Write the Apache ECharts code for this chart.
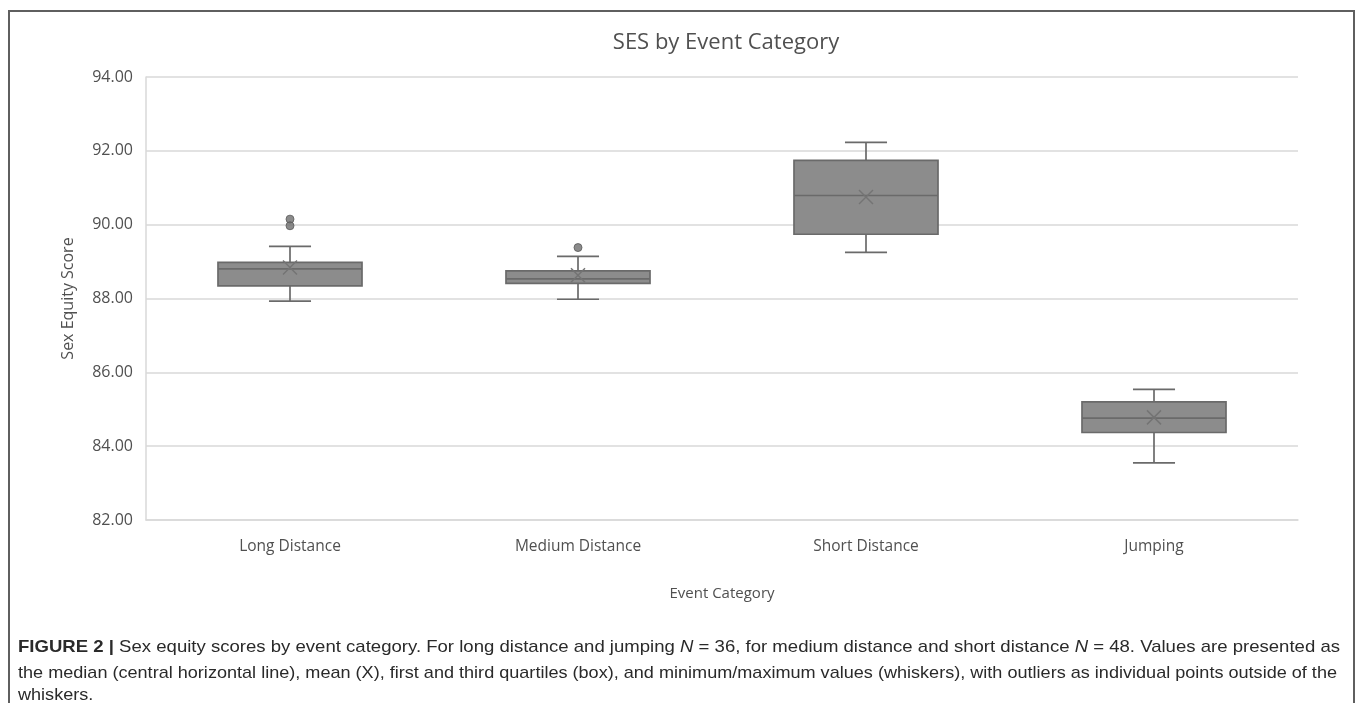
<!DOCTYPE html>
<html>
<head>
<meta charset="utf-8">
<script src="https://cdn.jsdelivr.net/npm/echarts@6/dist/echarts.min.js"></script>
<style>
  html, body { margin: 0; padding: 0; background: #ffffff; width: 1360px; height: 703px; overflow: hidden; }
  #frame { position: absolute; left: 8px; top: 10px; width: 1347px; height: 720px; border: 2px solid #5f5f5f; border-bottom: none; box-sizing: border-box; }
  #chart { position: absolute; left: 0; top: 0; width: 1360px; height: 703px; }
  .cap { position: absolute; left: 18px; height: 22px; line-height: 22px; font-family: "Liberation Sans", Arial, sans-serif; font-size: 17px; color: #2a2a2a; white-space: nowrap; transform-origin: 0 50%; }
  .cap b { font-weight: bold; }
</style>
</head>
<body>
<div id="frame"></div>
<div id="chart"></div>
<div class="cap" id="cap1" data-w="1322" style="top:636px;"><b>FIGURE 2 |</b> Sex equity scores by event category. For long distance and jumping <i>N</i> = 36, for medium distance and short distance <i>N</i> = 48. Values are presented as</div>
<div class="cap" id="cap2" data-w="1319" style="top:662px;">the median (central horizontal line), mean (X), first and third quartiles (box), and minimum/maximum values (whiskers), with outliers as individual points outside of the</div>
<div class="cap" id="cap3" style="top:684px;">whiskers.</div>
<script>
// ---- data ----
var categories = ['Long Distance', 'Medium Distance', 'Short Distance', 'Jumping'];
var minVals    = [87.93, 87.98, 89.25, 83.55];
var q1Vals     = [88.34, 88.41, 89.74, 84.37];
var medianVals = [88.80, 88.53, 90.79, 84.76];
var q3Vals     = [88.98, 88.75, 91.74, 85.20];
var maxVals    = [89.41, 89.14, 92.23, 85.54];
var meanVals   = [88.84, 88.63, 90.75, 84.78];
var outlierCats = [0, 0, 1];
var outlierVals = [90.15, 89.97, 89.38];
var yTicks = [82, 84, 86, 88, 90, 92, 94];

// ---- build ----
var boxData = categories.map(function (c, i) {
  return [i, minVals[i], q1Vals[i], medianVals[i], q3Vals[i], maxVals[i], meanVals[i]];
});
var outlierData = outlierCats.map(function (c, i) { return [c, outlierVals[i]]; });

var LINE = '#6a6a6a';
var FILL = '#8c8c8c';

function renderBox(params, api) {
  var x = api.value(0);
  var pMin = api.coord([x, api.value(1)]);
  var pQ1 = api.coord([x, api.value(2)]);
  var pMed = api.coord([x, api.value(3)]);
  var pQ3 = api.coord([x, api.value(4)]);
  var pMax = api.coord([x, api.value(5)]);
  var pMean = api.coord([x, api.value(6)]);
  var band = api.size([1, 0])[0];
  var bw = band * 0.5;
  var cw = band * 0.146;
  var cx = pMed[0];
  var ls = { stroke: LINE, lineWidth: 1.7 };
  var m = 7;
  return {
    type: 'group',
    children: [
      { type: 'line', shape: { x1: cx, y1: pQ3[1], x2: cx, y2: pMax[1] }, style: ls },
      { type: 'line', shape: { x1: cx, y1: pQ1[1], x2: cx, y2: pMin[1] }, style: ls },
      { type: 'line', shape: { x1: cx - cw / 2, y1: pMax[1], x2: cx + cw / 2, y2: pMax[1] }, style: ls },
      { type: 'line', shape: { x1: cx - cw / 2, y1: pMin[1], x2: cx + cw / 2, y2: pMin[1] }, style: ls },
      { type: 'rect', shape: { x: cx - bw / 2, y: pQ3[1], width: bw, height: pQ1[1] - pQ3[1] }, style: { fill: FILL, stroke: LINE, lineWidth: 1.7 } },
      { type: 'line', shape: { x1: cx - bw / 2, y1: pMed[1], x2: cx + bw / 2, y2: pMed[1] }, style: ls },
      { type: 'line', shape: { x1: cx - m, y1: pMean[1] - m, x2: cx + m, y2: pMean[1] + m }, style: { stroke: '#747474', lineWidth: 1.5 } },
      { type: 'line', shape: { x1: cx - m, y1: pMean[1] + m, x2: cx + m, y2: pMean[1] - m }, style: { stroke: '#747474', lineWidth: 1.5 } }
    ]
  };
}

var chart = echarts.init(document.getElementById('chart'), null, { renderer: 'canvas' });
var FONT = '"Open Sans", "Noto Sans", sans-serif';
var TXT = '#505050';
chart.setOption({
  animation: false,
  title: {
    text: 'SES by Event Category',
    left: 721, top: 27, textAlign: 'center',
    textStyle: { fontFamily: FONT, fontSize: 22, fontWeight: 'normal', color: TXT }
  },
  grid: { left: 146, right: 62, top: 77, bottom: 183, containLabel: false },
  xAxis: {
    type: 'category',
    data: categories,
    boundaryGap: true,
    name: 'Event Category',
    nameLocation: 'middle',
    nameGap: 66,
    nameTextStyle: { fontFamily: FONT, fontSize: 15, color: TXT },
    axisLine: { show: true, lineStyle: { color: '#d9d9d9', width: 1.5 } },
    axisTick: { show: false },
    axisLabel: { fontFamily: FONT, fontSize: 15.5, color: TXT, margin: 19 },
    splitLine: { show: false }
  },
  yAxis: {
    type: 'value',
    min: yTicks[0], max: yTicks[yTicks.length - 1], interval: 2,
    name: 'Sex Equity Score',
    nameLocation: 'middle',
    nameGap: 70,
    nameRotate: 90,
    nameTextStyle: { fontFamily: FONT, fontSize: 16, color: TXT },
    axisLine: { show: true, lineStyle: { color: '#d9d9d9', width: 1.5 } },
    axisTick: { show: false },
    axisLabel: { fontFamily: FONT, fontSize: 16, color: TXT, margin: 13, formatter: function (v) { return v.toFixed(2); } },
    splitLine: { show: true, lineStyle: { color: '#d9d9d9', width: 1.5 } }
  },
  series: [
    {
      type: 'custom',
      renderItem: renderBox,
      encode: { x: 0, y: [1, 2, 3, 4, 5] },
      data: boxData,
      z: 3
    },
    {
      type: 'scatter',
      data: outlierData,
      symbol: 'circle',
      symbolSize: 8,
      itemStyle: { color: '#6e6e6e', borderColor: '#595959', borderWidth: 1 },
      z: 4
    }
  ]
});

// fit caption lines to the reference widths; last line reuses the line-2 scale
var lastScale = 1;
['cap1', 'cap2'].forEach(function (id) {
  var el = document.getElementById(id);
  var target = parseFloat(el.getAttribute('data-w'));
  var w = el.getBoundingClientRect().width;
  if (w > 0) { lastScale = target / w; el.style.transform = 'scaleX(' + lastScale + ')'; }
});
document.getElementById('cap3').style.transform = 'scaleX(' + lastScale + ')';
</script>
</body>
</html>
